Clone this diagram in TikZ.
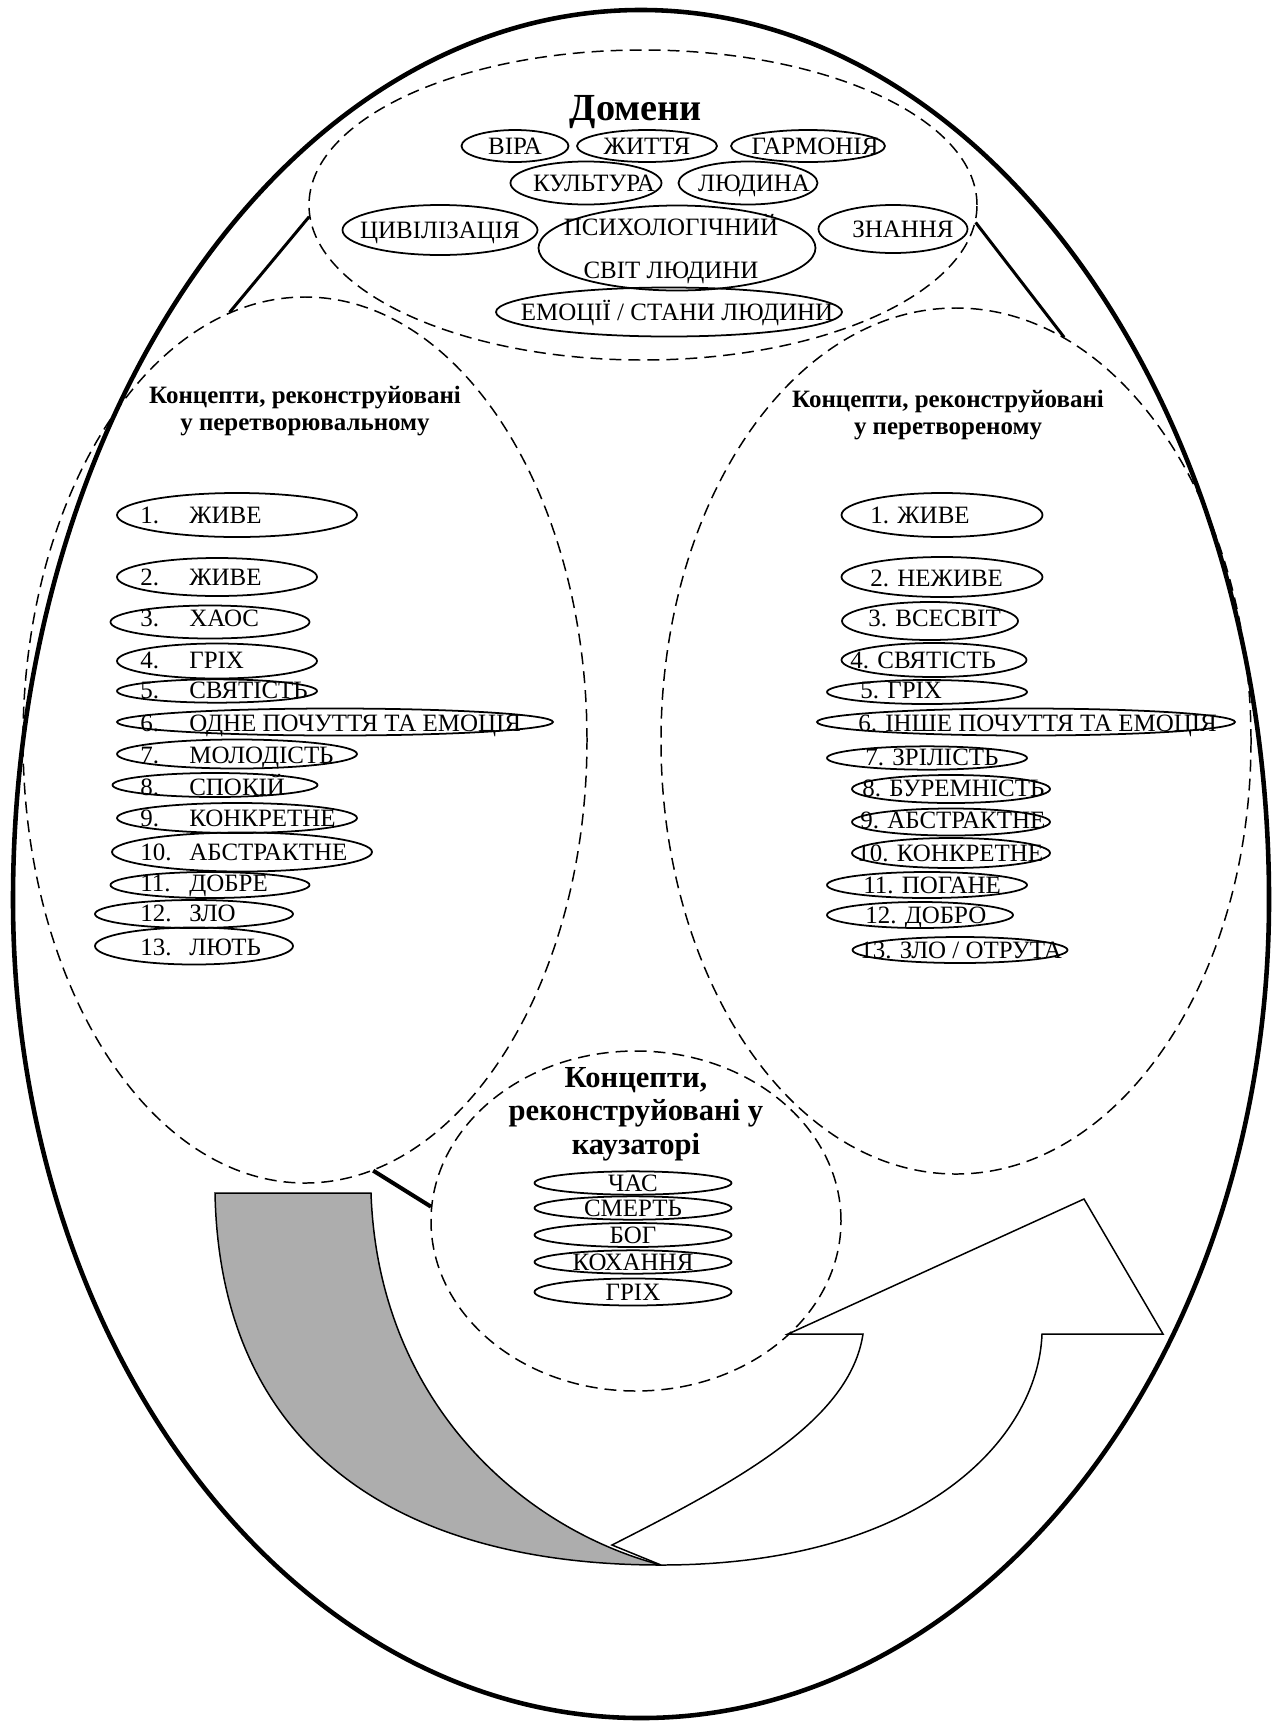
\documentclass[tikz,border=0pt]{standalone}
\usepackage{fontspec}
\setmainfont{Liberation Serif}
\usetikzlibrary{shapes}

\newcommand{\listfont}{\fontsize{14.2}{17}\selectfont}
\newcommand{\headfont}{\bfseries\fontsize{14.2}{15.4}\selectfont}
\newcommand{\ctr}[1]{\makebox[0pt]{#1}}
\newcommand{\nr}[1]{\makebox[9.8mm][l]{#1}}

\tikzset{
  zone/.style={draw, ellipse, inner sep=0pt, line width=0.85pt, dash pattern=on 6.8pt off 4pt},
  oval/.style={draw, ellipse, inner sep=0pt, line width=1pt, font=\listfont, text height=3.3mm, text depth=0pt},
  item/.style={anchor=west, inner sep=0pt, font=\listfont, text height=3.3mm, text depth=0pt},
  head/.style={align=center, inner sep=0pt, font=\headfont},
  link/.style={line width=1.7pt},
  band/.style={line width=0.85pt, line join=miter}
}

\begin{document}
\begin{tikzpicture}[x=0.2mm, y=-0.2mm]
\useasboundingbox (0,0) rectangle (1282,1728);

% egg
\draw[line width=2.6pt] (13,900) arc[start angle=180, end angle=0, x radius=125.6mm, y radius=178mm]
  arc[start angle=0, end angle=-180, x radius=125.6mm, y radius=163.6mm] -- cycle;

% big arrow
\draw[band, fill=black!32] (215,1193) -- (371,1193)
  .. controls (378,1400) and (520,1528) .. (661,1565)
  .. controls (400,1565) and (220,1450) .. (215,1193) -- cycle;
\draw[band, fill=white] (612,1545) .. controls (740,1480) and (850,1420) .. (863,1334)
  -- (788,1334) -- (1084,1199) -- (1163,1334) -- (1042,1334)
  .. controls (1038,1440) and (920,1565) .. (661,1565) -- cycle;

% zones
\node[zone, minimum width=133.6mm, minimum height=62mm] (dom) at (643,205) {};
\node[zone, minimum width=112.8mm, minimum height=177.2mm] (src) at (305,740) {};
\node[zone, minimum width=118mm, minimum height=173.2mm] (res) at (956,741) {};
\node[zone, minimum width=82mm, minimum height=68mm] (cau) at (636,1221) {};

\draw[link] (dom.182) -- (src.100);
\draw[link] (dom.357) -- (res.75);
\draw[link, line width=2.3pt] (src.279) -- (cau.176);

% domains
\node[font=\bfseries\fontsize{21.8}{24}\selectfont, inner sep=0pt] (domt) at (636,112) {Домени};
\node[oval, minimum width=21.4mm, minimum height=6.4mm] (vira) at (515,146) {\ctr{ВІРА}};
\node[oval, minimum width=28mm, minimum height=6.4mm] (zhyt) at (647,146) {\ctr{ЖИТТЯ}};
\node[oval, minimum width=30.8mm, minimum height=6.4mm] (harm) at (808,146) {\ctr{\hspace{2.8mm}ГАРМОНІЯ}};
\node[oval, minimum width=30.2mm, minimum height=8.6mm] (kult) at (586,183) {\ctr{\hspace{3.2mm}КУЛЬТУРА}};
\node[oval, minimum width=27.8mm, minimum height=8.6mm] (lud) at (748,183) {\ctr{\hspace{2.4mm}ЛЮДИНА}};
\node[oval, minimum width=39mm, minimum height=10mm] (tsyv) at (440,230) {\ctr{ЦИВІЛІЗАЦІЯ}};
\node[oval, minimum width=55.4mm, minimum height=17mm] (psy) at (677,248) {};
\node[font=\fontsize{14.2}{24.5}\selectfont, align=center, inner sep=0pt] (psyt) at (671,249) {ПСИХОЛОГІЧНИЙ\\СВІТ ЛЮДИНИ};
\node[oval, minimum width=29.8mm, minimum height=9.6mm] (znan) at (893,229) {\ctr{\hspace{4mm}ЗНАННЯ}};
\node[oval, minimum width=69.2mm, minimum height=9.8mm] (emo) at (669,312) {\ctr{\hspace{3.2mm}ЕМОЦІЇ / СТАНИ ЛЮДИНИ}};

% headings
\node[head] (srct) at (305,411) {Концепти, реконструйовані\\у перетворювальному};
\node[head] (rest) at (948,415) {Концепти, реконструйовані\\у перетвореному};
\node[head, font=\bfseries\fontsize{17.4}{19}\selectfont] (caut) at (636,1114) {Концепти,\\реконструйовані у\\каузаторі};

% left list
\node[oval, minimum width=48mm, minimum height=8.8mm] (s1) at (237,515) {};
\node[item] (s1t) at (140,515) {\nr{1.}ЖИВЕ};
\node[oval, minimum width=40mm, minimum height=7.6mm] (s2) at (217,577) {};
\node[item] (s2t) at (140,577) {\nr{2.}ЖИВЕ};
\node[oval, minimum width=39.8mm, minimum height=6.6mm] (s3) at (210,622) {};
\node[item] (s3t) at (140,618) {\nr{3.}ХАОС};
\node[oval, minimum width=40mm, minimum height=7mm] (s4) at (217,661) {};
\node[item] (s4t) at (140,660) {\nr{4.}ГРІХ};
\node[oval, minimum width=40mm, minimum height=4.4mm] (s5) at (217,691) {};
\node[item] (s5t) at (140,690) {\nr{5.}СВЯТІСТЬ};
\node[oval, minimum width=87.2mm, minimum height=5.4mm] (s6) at (335,722) {};
\node[item] (s6t) at (140,723) {\nr{6.}ОДНЕ ПОЧУТТЯ ТА ЕМОЦІЯ};
\node[oval, minimum width=48mm, minimum height=5.8mm] (s7) at (237,754) {};
\node[item] (s7t) at (140,755) {\nr{7.}МОЛОДІСТЬ};
\node[oval, minimum width=41mm, minimum height=4.8mm] (s8) at (215,785) {};
\node[item] (s8t) at (140,787) {\nr{8.}СПОКІЙ};
\node[oval, minimum width=48mm, minimum height=6mm] (s9) at (237,818) {};
\node[item] (s9t) at (140,818) {\nr{9.}КОНКРЕТНЕ};
\node[oval, minimum width=52mm, minimum height=7.8mm] (s10) at (242,852) {};
\node[item] (s10t) at (140,852) {\nr{10.}АБСТРАКТНЕ};
\node[oval, minimum width=39.8mm, minimum height=5.2mm] (s11) at (210,885) {};
\node[item] (s11t) at (140,883) {\nr{11.}ДОБРЕ};
\node[oval, minimum width=39.6mm, minimum height=5.6mm] (s12) at (194,914) {};
\node[item] (s12t) at (140,913) {\nr{12.}ЗЛО};
\node[oval, minimum width=39.6mm, minimum height=7.4mm] (s13) at (194,946) {};
\node[item] (s13t) at (140,947) {\nr{13.}ЛЮТЬ};

% right list
\node[oval, minimum width=40.2mm, minimum height=8.8mm] (r1) at (942,515) {};
\node[item] (r1t) at (870,515) {1. ЖИВЕ};
\node[oval, minimum width=40.2mm, minimum height=8mm] (r2) at (942,577) {};
\node[item] (r2t) at (870,578) {2. НЕЖИВЕ};
\node[oval, minimum width=35.2mm, minimum height=7.6mm] (r3) at (930,621) {};
\node[item] (r3t) at (868,618) {3. ВСЕСВІТ};
\node[oval, minimum width=37mm, minimum height=6.8mm] (r4) at (934,660) {};
\node[item] (r4t) at (850,660) {4. СВЯТІСТЬ};
\node[oval, minimum width=40mm, minimum height=4.8mm] (r5) at (927,692) {};
\node[item] (r5t) at (860,690) {5. ГРІХ};
\node[oval, minimum width=83.6mm, minimum height=5.4mm] (r6) at (1026,722) {};
\node[item] (r6t) at (858,723) {6. ІНШЕ ПОЧУТТЯ ТА ЕМОЦІЯ};
\node[oval, minimum width=40mm, minimum height=4.6mm] (r7) at (927,758) {};
\node[item] (r7t) at (865,757) {7. ЗРІЛІСТЬ};
\node[oval, minimum width=39.6mm, minimum height=5.6mm] (r8) at (951,789) {};
\node[item] (r8t) at (862,788) {8. БУРЕМНІСТЬ};
\node[oval, minimum width=39.6mm, minimum height=5.4mm] (r9) at (951,822) {};
\node[item] (r9t) at (860,820) {9. АБСТРАКТНЕ};
\node[oval, minimum width=39.6mm, minimum height=6mm] (r10) at (951,853) {};
\node[item] (r10t) at (857,853) {10. КОНКРЕТНЕ};
\node[oval, minimum width=40mm, minimum height=5.2mm] (r11) at (927,885) {};
\node[item] (r11t) at (863,885) {11. ПОГАНЕ};
\node[oval, minimum width=37.2mm, minimum height=5.2mm] (r12) at (920,915) {};
\node[item] (r12t) at (865,915) {12. ДОБРО};
\node[oval, minimum width=43mm, minimum height=5.2mm] (r13) at (960,950) {};
\node[item] (r13t) at (860,950) {13. ЗЛО / ОТРУТА};

% causator
\node[oval, minimum width=39.4mm, minimum height=4.6mm] (c1) at (633,1183) {\ctr{ЧАС}};
\node[oval, minimum width=39.4mm, minimum height=4.6mm] (c2) at (633,1208) {\ctr{СМЕРТЬ}};
\node[oval, minimum width=39.4mm, minimum height=4.8mm] (c3) at (633,1235) {\ctr{БОГ}};
\node[oval, minimum width=39.4mm, minimum height=4.6mm] (c4) at (633,1262) {\ctr{КОХАННЯ}};
\node[oval, minimum width=39.4mm, minimum height=5.4mm] (c5) at (633,1292) {\ctr{ГРІХ}};
\end{tikzpicture}
\end{document}
